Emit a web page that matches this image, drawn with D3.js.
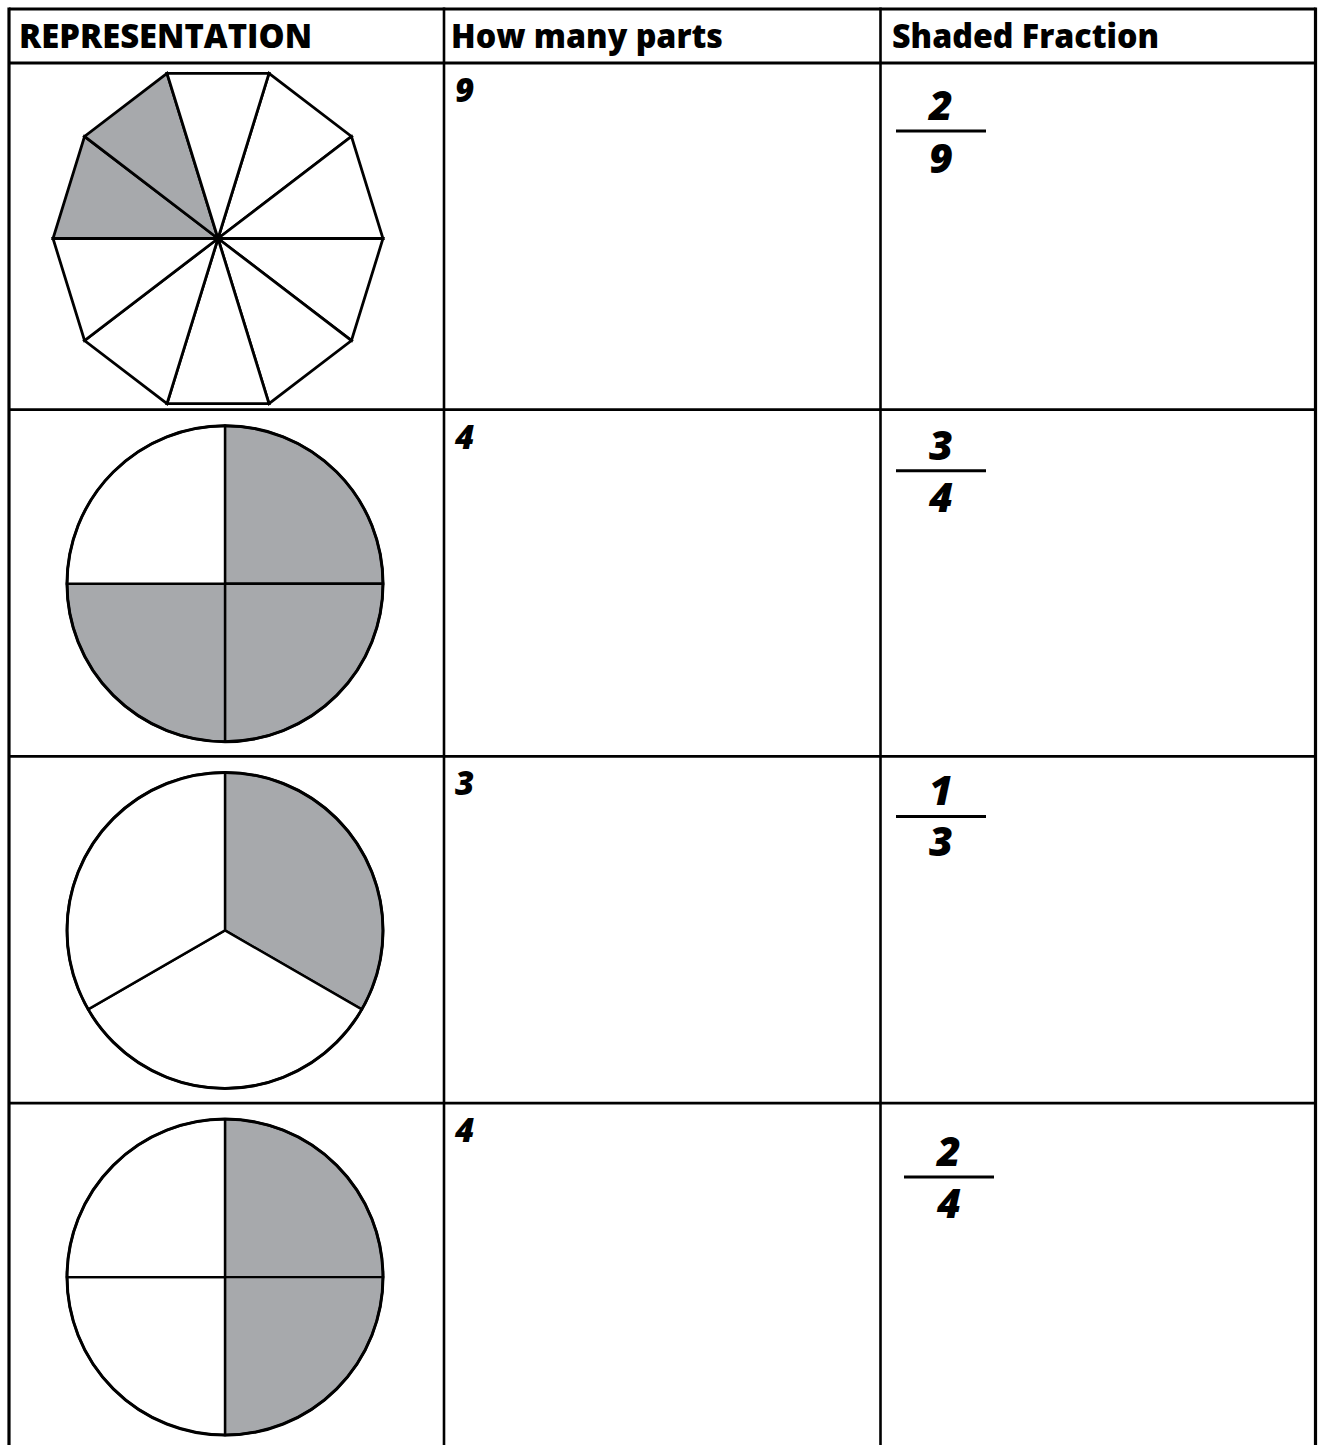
<!DOCTYPE html>
<html>
<head>
<meta charset="utf-8">
<script src="https://cdn.jsdelivr.net/npm/d3@7"></script>
<style>
  body { margin: 0; background: #fff; }
  svg { display: block; }
</style>
</head>
<body>
<script>
'use strict';

// table content
const headers = ['REPRESENTATION', 'How many parts', 'Shaded Fraction'];
const shapes = ['decagon', 'circle', 'circle', 'circle'];
const sliceCounts = [10, 4, 3, 4];
const shadedSlices = [[7, 8], [0, 1, 2], [0], [0, 1]];
const partsLabels = ['9', '4', '3', '4'];
const numerators = ['2', '3', '1', '2'];
const denominators = ['9', '4', '3', '4'];

// layout
const width = 1318;
const height = 1445;
const colEdges = [9, 444, 880.5, 1315.5];
const tableTop = 9;
const headerBottom = 63;
const rowStep = 346.7;
const headerX = [19, 451, 892];
const headerW = [293, 272, 267];
const fracLayout = [
  { x: 941, num: 57, line: 68, den: 110 },
  { x: 941, num: 50, line: 61, den: 102 },
  { x: 941, num: 49, line: 60, den: 100 },
  { x: 949, num: 63, line: 74, den: 115 }
];
const shadeFill = '#a7a9ac';
const font = "'Open Sans', 'Noto Sans', 'DejaVu Sans', sans-serif";

const svg = d3.select('body')
  .append('svg')
  .attr('width', width)
  .attr('height', height);

const rowIdx = d3.range(shapes.length);
const yRow = d3.scaleBand()
  .domain(rowIdx)
  .range([headerBottom, headerBottom + rowStep * rowIdx.length])
  .padding(0);

// --- shapes ---
rowIdx.forEach(function(i) {
  let top = yRow(i);
  let g = svg.append('g');
  let pieGen = d3.pie().sort(null).value(1);

  if (shapes[i] === 'decagon') {
    let r = 165;
    let stretch = 1.052;
    let slices = pieGen
      .startAngle(Math.PI / 10)
      .endAngle(Math.PI / 10 + 2 * Math.PI)(d3.range(sliceCounts[i]));
    let wedge = d3.lineRadial().curve(d3.curveLinearClosed);
    g.attr('transform', 'translate(218,' + (top + 175.5) + ') scale(1,' + stretch + ')');
    g.selectAll('path')
      .data(slices)
      .enter()
      .append('path')
      .attr('d', d => wedge([[d.startAngle, 0], [d.startAngle, r], [d.endAngle, r]]))
      .attr('fill', (d, k) => shadedSlices[i].includes(k) ? shadeFill : '#fff')
      .attr('stroke', '#000')
      .attr('stroke-width', 2.8)
      .attr('stroke-linejoin', 'miter')
      .attr('vector-effect', 'non-scaling-stroke');
  } else {
    let r = 158;
    let slices = pieGen
      .startAngle(0)
      .endAngle(2 * Math.PI)(d3.range(sliceCounts[i]));
    let arc = d3.arc().innerRadius(0).outerRadius(r);
    g.attr('transform', 'translate(225,' + (top + 174) + ')');
    g.selectAll('path')
      .data(slices)
      .enter()
      .append('path')
      .attr('d', arc)
      .attr('fill', (d, k) => shadedSlices[i].includes(k) ? shadeFill : '#fff')
      .attr('stroke', '#000')
      .attr('stroke-width', 2.4);
    g.append('circle')
      .attr('r', r)
      .attr('fill', 'none')
      .attr('stroke', '#000')
      .attr('stroke-width', 3);
  }
});

// --- table grid ---
let hLines = [tableTop, headerBottom].concat(rowIdx.slice(1).map(i => yRow(i)));
svg.selectAll('.hline')
  .data(hLines)
  .enter()
  .append('line')
  .attr('x1', colEdges[0])
  .attr('x2', colEdges[colEdges.length - 1])
  .attr('y1', d => d)
  .attr('y2', d => d)
  .attr('stroke', '#000')
  .attr('stroke-width', (d, k) => k === 0 ? 3.2 : 2.8);

svg.selectAll('.vline')
  .data(colEdges)
  .enter()
  .append('line')
  .attr('x1', d => d)
  .attr('x2', d => d)
  .attr('y1', tableTop - 1.5)
  .attr('y2', height)
  .attr('stroke', '#000')
  .attr('stroke-width', (d, k) => (k === 0 || k === colEdges.length - 1) ? 3.2 : 2.6);

// --- header text ---
svg.selectAll('.header')
  .data(headers)
  .enter()
  .append('text')
  .attr('x', (d, k) => headerX[k])
  .attr('y', 48)
  .attr('textLength', (d, k) => headerW[k])
  .attr('lengthAdjust', 'spacingAndGlyphs')
  .style('font-family', font)
  .style('font-weight', 800)
  .style('font-size', '34px')
  .text(d => d);

// --- parts column ---
svg.selectAll('.parts')
  .data(partsLabels)
  .enter()
  .append('text')
  .attr('x', 455)
  .attr('y', (d, k) => yRow(k) + 39)
  .style('font-family', font)
  .style('font-weight', 800)
  .style('font-style', 'italic')
  .style('font-size', '33px')
  .text(d => d);

// --- fractions ---
rowIdx.forEach(function(i) {
  let top = yRow(i);
  let f = fracLayout[i];
  let fg = svg.append('g')
    .style('font-family', font)
    .style('font-weight', 800)
    .style('font-style', 'italic')
    .style('font-size', '41px')
    .attr('text-anchor', 'middle');
  fg.append('text')
    .attr('x', f.x)
    .attr('y', top + f.num)
    .text(numerators[i]);
  fg.append('line')
    .attr('x1', f.x - 45)
    .attr('x2', f.x + 45)
    .attr('y1', top + f.line)
    .attr('y2', top + f.line)
    .attr('stroke', '#000')
    .attr('stroke-width', 3);
  fg.append('text')
    .attr('x', f.x)
    .attr('y', top + f.den)
    .text(denominators[i]);
});
</script>
</body>
</html>
